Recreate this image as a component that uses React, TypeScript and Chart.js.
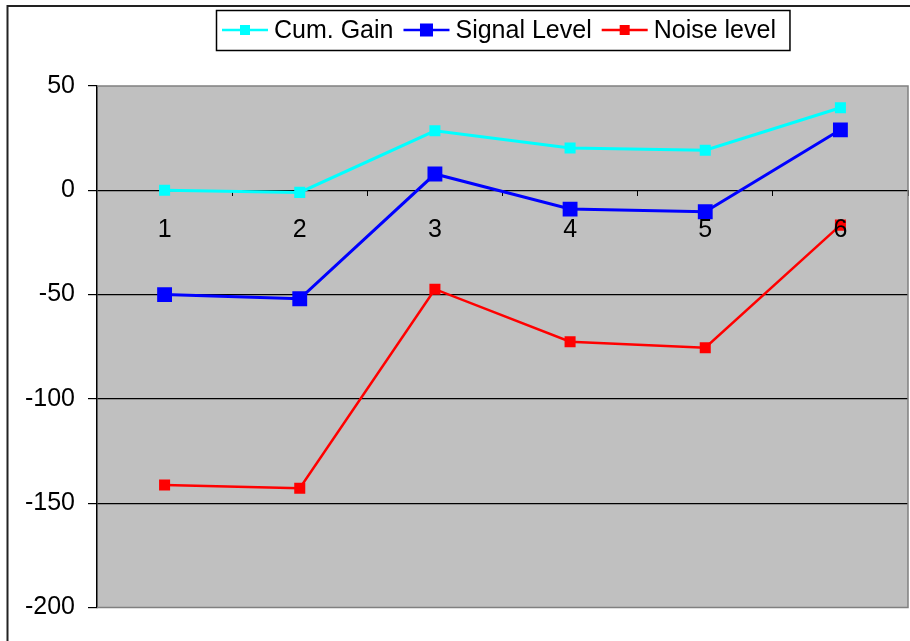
import React, { useEffect, useRef } from "react";
import { Chart, registerables } from "chart.js";

Chart.register(...registerables);

const categories = ["1", "2", "3", "4", "5", "6"];
const cumGain = [0, -1, 28.5, 20.3, 19.2, 39.6];
const signalLevel = [-50, -52, 7.8, -9, -10.3, 29];
const noiseLevel = [-141.3, -142.8, -47.4, -72.6, -75.5, -16.7];
const seriesNames = ["Cum. Gain", "Signal Level", "Noise level"];
const seriesColors = ["#00FFFF", "#0000FF", "#FF0000"];
const yTicks = [50, 0, -50, -100, -150, -200];

const FONT = '"Liberation Sans", Arial, sans-serif';

const chartPlugin = {
  id: "excelLook",
  beforeDraw(chart: any) {
    const { ctx, chartArea } = chart;
    ctx.save();
    ctx.fillStyle = "#FFFFFF";
    ctx.fillRect(0, 0, chart.width, chart.height);
    ctx.fillStyle = "#C0C0C0";
    ctx.fillRect(chartArea.left, chartArea.top, chartArea.right - chartArea.left, chartArea.bottom - chartArea.top);
    ctx.strokeStyle = "#222222";
    ctx.lineWidth = 2;
    ctx.strokeRect(7.5, 6, chart.width + 20, chart.height + 20);
    ctx.restore();
  },
  afterDraw(chart: any) {
    const { ctx, chartArea } = chart;
    ctx.save();
    ctx.strokeStyle = "#808080";
    ctx.lineWidth = 1.5;
    ctx.beginPath();
    ctx.moveTo(chartArea.left, chartArea.top);
    ctx.lineTo(chartArea.right, chartArea.top);
    ctx.lineTo(chartArea.right, chartArea.bottom);
    ctx.lineTo(chartArea.left, chartArea.bottom);
    ctx.stroke();

    ctx.font = `25px ${FONT}`;
    ctx.textBaseline = "middle";
    ctx.textAlign = "left";
    const cy = 30;
    let x = 222;
    const sizes = [10, 13, 10];
    chart.data.datasets.forEach((ds: any, i: number) => {
      ctx.strokeStyle = ds.borderColor;
      ctx.lineWidth = 2.5;
      ctx.beginPath();
      ctx.moveTo(x, cy);
      ctx.lineTo(x + 46, cy);
      ctx.stroke();
      ctx.fillStyle = ds.borderColor;
      const s = sizes[i];
      ctx.fillRect(x + 23 - s / 2, cy - s / 2, s, s);
      ctx.fillStyle = "#000000";
      ctx.fillText(ds.label, x + 52, cy + 1);
      const w = ctx.measureText(ds.label).width;
      x = x + 52 + w + 10;
    });
    const right = x + 4;
    ctx.strokeStyle = "#000000";
    ctx.lineWidth = 1.5;
    ctx.strokeRect(216.5, 10.5, right - 216.5, 40);
    ctx.restore();
  },
};

export default function App() {
  const ref = useRef<HTMLCanvasElement>(null);
  useEffect(() => {
    if (!ref.current) return;
    const datasets = [cumGain, signalLevel, noiseLevel].map((data, i) => ({
      label: seriesNames[i],
      data,
      borderColor: seriesColors[i],
      backgroundColor: seriesColors[i],
      borderWidth: i === 2 ? 2.5 : 3,
      pointStyle: "rect" as const,
      pointRadius: i === 1 ? 10.5 : 7.8,
      pointBorderWidth: 0,
      tension: 0,
    }));
    const chart = new Chart(ref.current, {
      type: "line",
      data: { labels: categories, datasets },
      options: {
        responsive: false,
        animation: false,
        devicePixelRatio: 1,
        layout: { autoPadding: false, padding: { top: 86, bottom: 33.5, right: 2, left: 0 } },
        plugins: { legend: { display: false }, tooltip: { enabled: false } },
        scales: {
          x: {
            type: "category",
            position: { y: 0 } as any,
            offset: true,
            afterFit: (scale: any) => {
              scale.paddingLeft = 0;
              scale.paddingRight = 0;
            },
            border: { display: false },
            grid: {
              offset: true,
              drawOnChartArea: false,
              drawTicks: true,
              tickLength: 6,
              color: "#000000",
              tickColor: "#000000",
            },
            ticks: { z: 1, color: "#000000", font: { size: 25, family: FONT }, padding: 19, maxRotation: 0 },
          },
          y: {
            min: -200,
            max: 50,
            afterBuildTicks: (scale: any) => {
              scale.ticks = yTicks.map((v) => ({ value: v }));
            },
            afterFit: (scale: any) => {
              scale.width = 97;
            },
            border: { display: true, color: "#000000", width: 1.5 },
            grid: {
              color: (c: any) => (c.tick && (c.tick.value === 50 || c.tick.value === -200) ? "rgba(0,0,0,0)" : "#000000"),
              tickColor: "#000000",
              tickLength: 9,
              lineWidth: 1.2,
            },
            ticks: { color: "#000000", font: { size: 25, family: FONT }, padding: 13 },
          },
        },
      },
      plugins: [chartPlugin],
    });
    return () => chart.destroy();
  }, []);
  return (
    <div style={{ position: "absolute", left: 0, top: 0, width: 910, height: 641 }}>
      <canvas ref={ref} width={910} height={641} style={{ display: "block" }} />
    </div>
  );
}
